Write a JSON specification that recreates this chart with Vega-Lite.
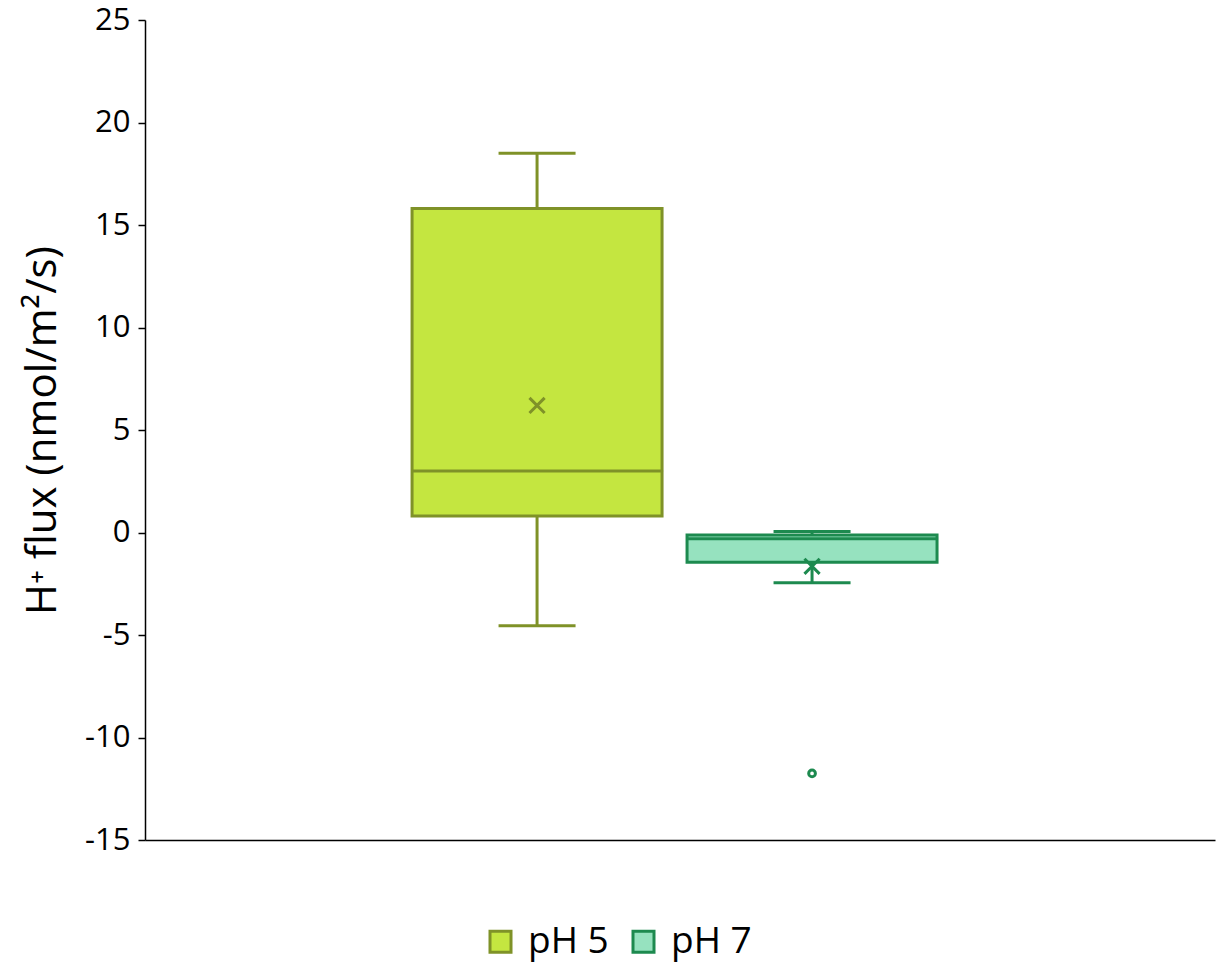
{
  "$schema": "https://vega.github.io/schema/vega-lite/v6.json",
  "width": 1070,
  "height": 820,
  "autosize": "none",
  "padding": {"left": 145, "top": 20, "right": 10, "bottom": 130},
  "background": "white",
  "config": {
    "view": {"stroke": null},
    "font": "Open Sans"
  },
  "datasets": {
    "stats": [
      {"group": "pH 5", "min": -4.55, "q1": 0.8, "median": 3.0, "q3": 15.8, "max": 18.5, "mean": 6.2},
      {"group": "pH 7", "min": -2.45, "q1": -1.45, "median": -0.3, "q3": -0.12, "max": 0.05, "mean": -1.65}
    ],
    "outliers": [
      {"group": "pH 7", "value": -11.75}
    ]
  },
  "encoding": {
    "x": {
      "field": "group",
      "type": "nominal",
      "scale": {"domain": ["pH 5", "pH 7"], "paddingInner": 0.0909, "paddingOuter": 0.991, "align": 0.49},
      "axis": {"title": null, "labels": false, "ticks": false, "domainColor": "black", "domainWidth": 1.5}
    }
  },
  "layer": [
    {
      "data": {"name": "stats"},
      "mark": {"type": "rule", "strokeWidth": 3},
      "encoding": {
        "y": {"field": "q1", "type": "quantitative"},
        "y2": {"field": "min"},
        "stroke": {"field": "group", "type": "nominal", "scale": {"domain": ["pH 5", "pH 7"], "range": ["#7f9228", "#1d8a4f"]}}
      }
    },
    {
      "data": {"name": "stats"},
      "mark": {"type": "rule", "strokeWidth": 3},
      "encoding": {
        "y": {"field": "q3", "type": "quantitative"},
        "y2": {"field": "max"},
        "stroke": {"field": "group", "type": "nominal"}
      }
    },
    {
      "data": {"name": "stats"},
      "mark": {"type": "tick", "size": 75, "thickness": 1, "filled": false, "strokeWidth": 2, "opacity": 1},
      "encoding": {
        "y": {"field": "min", "type": "quantitative"},
        "stroke": {"field": "group", "type": "nominal"}
      }
    },
    {
      "data": {"name": "stats"},
      "mark": {"type": "tick", "size": 75, "thickness": 1, "filled": false, "strokeWidth": 2, "opacity": 1},
      "encoding": {
        "y": {"field": "max", "type": "quantitative"},
        "stroke": {"field": "group", "type": "nominal"}
      }
    },
    {
      "data": {"name": "stats"},
      "mark": {"type": "bar", "strokeWidth": 3, "opacity": 1},
      "encoding": {
        "y": {
          "field": "q1",
          "type": "quantitative",
          "scale": {"domain": [-15, 25], "nice": false, "zero": false},
          "axis": {
            "title": "H⁺ flux (nmol/m²/s)",
            "titleFontSize": 42,
            "titleFontWeight": "normal",
            "titleColor": "black",
            "titlePadding": 20,
            "values": [-15, -10, -5, 0, 5, 10, 15, 20, 25],
            "labelExpr": "replace(datum.label, '−', '-')",
            "labelFontSize": 31,
            "labelColor": "black",
            "labelPadding": 8,
            "tickColor": "black",
            "tickSize": 7,
            "tickWidth": 1.5,
            "domainColor": "black",
            "domainWidth": 1.5,
            "grid": false
          }
        },
        "y2": {"field": "q3"},
        "fill": {
          "field": "group",
          "type": "nominal",
          "scale": {"domain": ["pH 5", "pH 7"], "range": ["#c4e640", "#96e2bf"]},
          "legend": {
            "title": null,
            "orient": "none",
            "legendX": 337,
            "legendY": 903,
            "direction": "horizontal",
            "symbolType": "square",
            "symbolSize": 441,
            "symbolStrokeWidth": 3,
            "labelFontSize": 37,
            "labelColor": "black",
            "labelOffset": 9,
            "columnPadding": 16
          }
        },
        "stroke": {
          "field": "group",
          "type": "nominal",
          "legend": {
            "title": null,
            "orient": "none",
            "legendX": 337,
            "legendY": 903,
            "direction": "horizontal",
            "symbolType": "square",
            "symbolSize": 441,
            "symbolStrokeWidth": 3,
            "labelFontSize": 37,
            "labelColor": "black",
            "labelOffset": 9,
            "columnPadding": 16
          }
        }
      }
    },
    {
      "data": {"name": "stats"},
      "mark": {"type": "tick", "size": 250, "thickness": 1, "filled": false, "strokeWidth": 2, "opacity": 1},
      "encoding": {
        "y": {"field": "median", "type": "quantitative"},
        "stroke": {"field": "group", "type": "nominal"}
      }
    },
    {
      "data": {"name": "stats"},
      "mark": {"type": "point", "shape": "M-1,-1L1,1M-1,1L1,-1", "filled": false, "strokeWidth": 3, "size": 230, "opacity": 1},
      "encoding": {
        "y": {"field": "mean", "type": "quantitative"},
        "stroke": {"field": "group", "type": "nominal"}
      }
    },
    {
      "data": {"name": "outliers"},
      "mark": {"type": "point", "shape": "circle", "filled": false, "strokeWidth": 3, "size": 45, "opacity": 1},
      "encoding": {
        "y": {"field": "value", "type": "quantitative"},
        "stroke": {"field": "group", "type": "nominal"}
      }
    }
  ]
}
